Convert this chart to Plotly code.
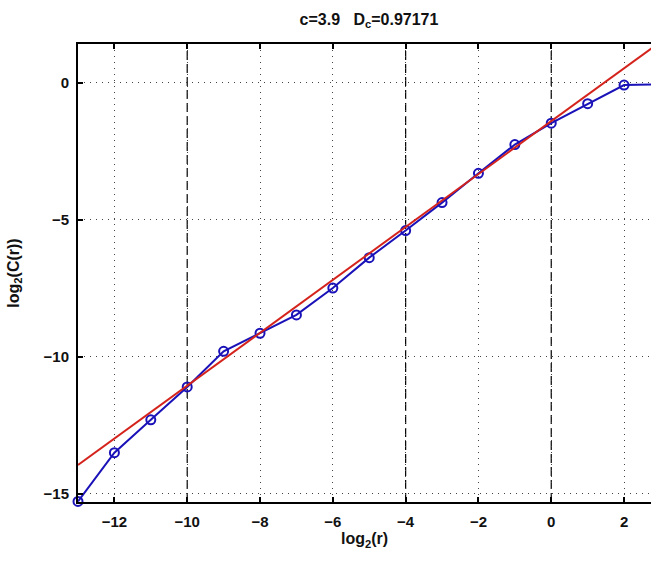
import plotly.graph_objects as go

# ---- data ----
log2_r = [-13, -12, -11, -10, -9, -8, -7, -6, -5, -4, -3, -2, -1, 0, 1, 2, 3]
log2_C = [-15.28, -13.5, -12.3, -11.1, -9.8, -9.14, -8.47, -7.49, -6.38, -5.39,
          -4.37, -3.3, -2.25, -1.47, -0.76, -0.08, -0.05]
fit_x = [-13, 3]
fit_y = [-13.95, 1.50]
marker_x = [-10, -4, 0]
x_ticks = [-12, -10, -8, -6, -4, -2, 0, 2]
y_ticks = [0, -5, -10, -15]
title_text = "c=3.9   D<sub>c</sub>=0.97171"

FONT = "Liberation Sans, Arial, sans-serif"

fig = go.Figure()
fig.add_trace(go.Scatter(
    x=log2_r, y=log2_C, mode="lines+markers",
    line=dict(color="#1a12b8", width=2),
    marker=dict(symbol="circle-open", size=9, color="#1a12b8", line=dict(width=2)),
    cliponaxis=False, showlegend=False))
fig.add_trace(go.Scatter(
    x=fit_x, y=fit_y, mode="lines",
    line=dict(color="#d4231c", width=2), showlegend=False))

for xv in marker_x:
    fig.add_vline(x=xv, line=dict(color="black", width=1.2, dash="9px,4px"), layer="below")

axis_common = dict(
    showline=True, linecolor="black", linewidth=2,
    ticks="inside", ticklen=5, tickwidth=2, tickcolor="black",
    showgrid=True, gridcolor="#444", gridwidth=1, griddash="1px,5px",
    zeroline=False,
    tickfont=dict(family=FONT, size=15, color="#111", weight="bold"),
)

fig.update_layout(
    width=651, height=563,
    margin=dict(l=78, r=0, t=44, b=61),
    paper_bgcolor="white", plot_bgcolor="white",
    title=dict(text=title_text, x=369/651, xref="container", xanchor="center",
               y=1-19/563, yref="container", yanchor="middle",
               font=dict(family=FONT, size=16, color="#111", weight="bold")),
    xaxis=dict(range=[-13, 2.74], tickvals=x_ticks, mirror="ticks",
               ticklabelstandoff=5,
               title=dict(text="log<sub>2</sub>(r)", standoff=4,
                          font=dict(family=FONT, size=16, color="#111", weight="bold")),
               **axis_common),
    yaxis=dict(range=[-15.3, 1.42], tickvals=y_ticks, mirror=False,
               ticklabelstandoff=4,
               title=dict(text="log<sub>2</sub>(C(r))", standoff=20,
                          font=dict(family=FONT, size=16, color="#111", weight="bold")),
               **axis_common),
)

fig.write_html("out.html")
